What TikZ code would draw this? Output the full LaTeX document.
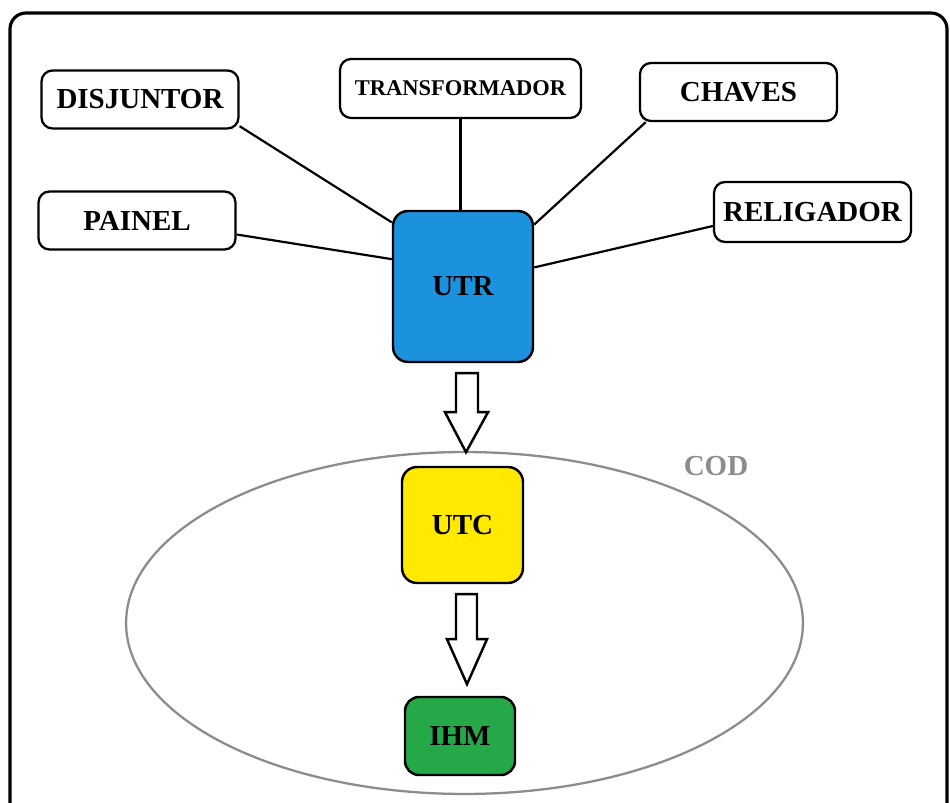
\documentclass[tikz,border=0pt]{standalone}
\usepackage{fontspec}
\setmainfont{Liberation Serif}
\usepackage{tikz}
\usetikzlibrary{shapes.geometric}

\definecolor{utrblue}{RGB}{28,146,222}
\definecolor{utcyellow}{RGB}{255,233,0}
\definecolor{ihmgreen}{RGB}{36,168,72}
\definecolor{codgray}{RGB}{140,140,140}

\begin{document}
\begin{tikzpicture}[
  x = 0.02cm,
  y = -0.02cm,
  device/.style = {
    draw,
    line width = 1.3pt,
    rounded corners = 0.22cm,
    minimum width = 3.94cm,
    minimum height = 1.16cm,
    inner sep = 0pt,
    font = \fontsize{16.5}{18}\selectfont\bfseries
  },
  unit/.style = {
    draw,
    line width = 1.4pt,
    rounded corners = 0.3cm,
    inner sep = 0pt,
    font = \fontsize{16.5}{18}\selectfont\bfseries
  },
  link/.style = {
    line width = 1.25pt
  },
  hollow/.style = {
    draw,
    line width = 1.4pt,
    fill = white,
    line join = miter
  },
  ]
  \clip (0, 0) rectangle (950, 803);

  % Outer frame.
  \draw[line width=1.8pt, rounded corners=0.32cm] (10, 13) rectangle (947, 840);

  % Control centre ellipse.
  \node[ellipse, draw=codgray, line width=1.3pt,
    minimum width=13.54cm, minimum height=6.84cm] (COD) at (464.5, 623) {};
  \node[text=codgray, font=\fontsize{16.5}{18}\selectfont\bfseries]
    (COD-label) at (716, 466) {COD};

  % Field devices.
  \node[device] (DIS) at (140, 99.5) {DISJUNTOR};
  \node[device] (PAI) at (137, 220.5) {PAINEL};
  \node[device, minimum width=4.82cm, minimum height=1.18cm,
    font=\fontsize{12.8}{14}\selectfont\bfseries] (TRA) at (460.5, 88.5) {TRANSFORMADOR};
  \node[device] (CHA) at (738.5, 92) {CHAVES};
  \node[device, minimum height=1.2cm] (REL) at (812.5, 212) {RELIGADOR};

  % Units.
  \node[unit, fill=utrblue, minimum width=2.8cm, minimum height=3.02cm] (UTR) at (463, 286.5) {UTR};
  \node[unit, fill=utcyellow, minimum width=2.42cm, minimum height=2.32cm] (UTC) at (462.5, 525) {UTC};
  \node[unit, fill=ihmgreen, minimum width=2.2cm, minimum height=1.56cm,
    rounded corners=0.28cm] (IHM) at (460, 736) {IHM};

  % Links from the devices to the UTR.
  \foreach \name/\from/\to in {DIS/-15/138, PAI/-8.6/159, CHA/198/41, REL/188/15} {
    \draw[link] (\name.\from) -- (UTR.\to);
  }
  \draw[link] (TRA.south) -- (TRA.south |- UTR.north);

  % Hollow arrow UTR to UTC.
  \draw[hollow] (UTR.south) ++(-7, 10) -- ++(22, 0) -- ++(0, 39) -- ++(10, 0)
    -- ++(-22, 40) -- ++(-21, -40) -- ++(11, 0) -- cycle;
  % Hollow arrow UTC to IHM.
  \draw[hollow] (UTC.south) ++(-6.5, 10) -- ++(21, 0) -- ++(0, 45) -- ++(10, 0)
    -- ++(-20, 45) -- ++(-20, -45) -- ++(9, 0) -- cycle;
\end{tikzpicture}
\end{document}
